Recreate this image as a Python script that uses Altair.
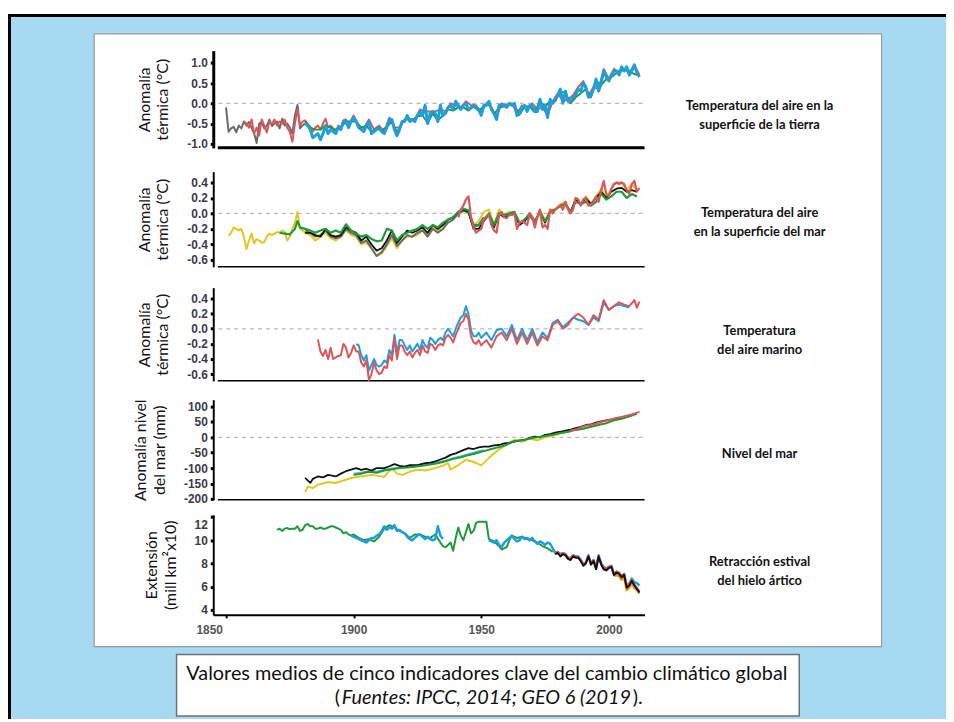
import altair as alt
import pandas as pd

# ---------------- DATA ----------------
# Panel 1: land surface air temperature anomaly (°C)
p1_grey_years = list(range(1850, 1882))
p1_grey = [-0.1, -0.7, -0.62, -0.58, -0.72, -0.55, -0.62, -0.45, -0.55, -0.46,
           -0.6, -0.74, -0.98, -0.5, -0.46, -0.62, -0.55, -0.4, -0.56, -0.5,
           -0.45, -0.62, -0.38, -0.55, -0.5, -0.6, -0.75, -0.3, -0.04, -0.62,
           -0.55, -0.5]
p1_red_years = list(range(1857, 1901)) + list(range(1902, 2013, 2))
p1_red = [-0.45, -0.5, -0.6, -0.4, -0.75, -0.6, -0.8, -0.4, -0.55, -0.72,
          -0.45, -0.5, -0.4, -0.55, -0.45, -0.5, -0.4, -0.6, -0.7, -0.95,
          -0.5, -0.15, -0.55, -0.45, -0.42, -0.5, -0.58, -0.7, -0.6, -0.55,
          -0.65, -0.5, -0.38, -0.6, -0.55, -0.62, -0.7, -0.55, -0.6, -0.42,
          -0.4, -0.55, -0.42, -0.3,
          -0.55, -0.62, -0.4, -0.65, -0.55, -0.7, -0.35, -0.6, -0.6, -0.4,
          -0.4, -0.4, -0.15, -0.2, -0.2, -0.2, -0.15, -0.2, 0.0, -0.05,
          -0.1, 0.05, -0.05, -0.05, -0.25, 0.0, -0.1, -0.35, 0.0, -0.05,
          0.0, -0.25, -0.05, -0.15, 0.0, -0.15, -0.1, -0.3, 0.05, 0.25,
          0.05, 0.1, 0.2, 0.4, 0.55, 0.2, 0.4, 0.35, 0.85, 0.6,
          0.85, 0.75, 0.85, 0.75, 0.95, 0.7]
p1_green_years = list(range(1881, 2012, 2))
p1_green = [-0.45, -0.6, -0.65, -0.65, -0.55, -0.6, -0.65, -0.6, -0.45, -0.45,
            -0.45, -0.6, -0.55, -0.7, -0.62, -0.68, -0.58, -0.45, -0.72, -0.48,
            -0.35, -0.42, -0.32, -0.3, -0.48, -0.25, -0.42, -0.3, -0.15, -0.18,
            -0.1, -0.1, -0.18, -0.08, -0.18, -0.08, 0.0, -0.28, -0.1, -0.08,
            -0.04, -0.04, -0.28, -0.08, -0.08, -0.22, 0.05, -0.08, 0.05, 0.05,
            0.3, 0.25, 0.0, 0.15, 0.25, 0.35, 0.15, 0.55, 0.45, 0.6,
            0.65, 0.75, 0.85, 0.85, 0.75, 0.7]
p1_blue_years = list(range(1881, 2013))
p1_blue = [-0.5, -0.55, -0.65, -0.85, -0.8, -0.75, -0.9, -0.75, -0.55, -0.75,
           -0.65, -0.7, -0.75, -0.6, -0.65, -0.45, -0.45, -0.6, -0.45, -0.35,
           -0.45, -0.6, -0.65, -0.7, -0.55, -0.45, -0.75, -0.7, -0.65, -0.6,
           -0.7, -0.75, -0.6, -0.4, -0.4, -0.65, -0.8, -0.65, -0.45, -0.45,
           -0.3, -0.45, -0.4, -0.45, -0.3, -0.2, -0.3, -0.05, -0.5, -0.25,
           -0.2, -0.25, -0.45, -0.05, -0.3, -0.25, -0.1, -0.05, -0.15, 0.05,
           -0.05, -0.15, -0.05, 0.0, -0.15, -0.1, -0.05, -0.1, -0.15, -0.3,
           -0.05, -0.05, 0.05, -0.15, -0.25, -0.4, -0.05, -0.05, -0.05, -0.1,
           0.0, -0.05, 0.0, -0.3, -0.25, -0.1, -0.05, -0.2, -0.05, -0.05,
           -0.2, -0.2, 0.1, -0.15, -0.05, -0.35, 0.1, 0.0, 0.1, 0.2,
           0.35, 0.0, 0.3, 0.05, 0.05, 0.15, 0.2, 0.35, 0.3, 0.5,
           0.4, 0.15, 0.2, 0.35, 0.6, 0.3, 0.5, 0.8, 0.65, 0.55,
           0.7, 0.8, 0.8, 0.7, 0.9, 0.8, 0.9, 0.7, 0.8, 0.95,
           0.75, 0.65]

# Panel 2: sea surface temperature anomaly (°C)
p2_yellow_years = list(range(1851, 1882)) + list(range(1883, 2012, 2))
p2_yellow = [-0.29, -0.25, -0.18, -0.2, -0.22, -0.2, -0.3, -0.46, -0.35, -0.26,
             -0.39, -0.33, -0.35, -0.38, -0.37, -0.3, -0.26, -0.28, -0.26, -0.24,
             -0.25, -0.22, -0.24, -0.35, -0.3, -0.2, -0.12, 0.02, -0.2, -0.22,
             -0.25,
             -0.28, -0.35, -0.3, -0.25, -0.32, -0.35, -0.3, -0.22, -0.28, -0.3,
             -0.4, -0.38, -0.45, -0.55, -0.52, -0.42, -0.32, -0.45, -0.35, -0.3,
             -0.3, -0.28, -0.22, -0.28, -0.18, -0.22, -0.2, -0.08, -0.05, 0.0,
             0.05, 0.0, -0.15, -0.1, 0.02, 0.05, -0.15, 0.05, -0.02, 0.02,
             0.02, -0.12, -0.08, 0.0, -0.12, 0.05, -0.1, 0.05, 0.05, 0.12,
             0.15, 0.0, 0.2, 0.12, 0.22, 0.12, 0.22, 0.32, 0.2, 0.32,
             0.4, 0.4, 0.3, 0.38, 0.3]
p2_grey_years = list(range(1881, 1952, 2))
p2_grey = [-0.22, -0.25, -0.3, -0.28, -0.22, -0.3, -0.32, -0.3, -0.2, -0.25,
           -0.28, -0.38, -0.35, -0.45, -0.55, -0.5, -0.4, -0.28, -0.42, -0.35,
           -0.28, -0.3, -0.25, -0.22, -0.3, -0.2, -0.25, -0.2, -0.12, -0.08,
           0.0, 0.03, 0.02, -0.18, -0.15, -0.05]
p2_black_years = list(range(1881, 2012, 2))
p2_black = [-0.25, -0.25, -0.28, -0.3, -0.2, -0.28, -0.3, -0.28, -0.18, -0.22,
            -0.25, -0.35, -0.3, -0.4, -0.48, -0.45, -0.35, -0.22, -0.38, -0.3,
            -0.22, -0.25, -0.22, -0.18, -0.25, -0.15, -0.2, -0.15, -0.08, -0.05,
            0.02, 0.05, 0.02, -0.2, -0.2, -0.1, -0.02, -0.18, 0.0, -0.05,
            -0.02, 0.0, -0.15, -0.1, -0.02, -0.12, 0.02, -0.12, 0.02, 0.05,
            0.1, 0.12, 0.02, 0.18, 0.12, 0.2, 0.12, 0.2, 0.28, 0.2,
            0.28, 0.32, 0.33, 0.28, 0.3, 0.28]
p2_green_years = [1871, 1873, 1875, 1877, 1878] + list(range(1879, 2012, 2))
p2_green = [-0.25, -0.26, -0.27, -0.2, -0.1,
            -0.18, -0.2, -0.22, -0.25, -0.22, -0.2, -0.25, -0.22, -0.25, -0.14,
            -0.22, -0.26, -0.3, -0.28, -0.33, -0.36, -0.35, -0.2, -0.22, -0.35,
            -0.28, -0.25, -0.22, -0.2, -0.15, -0.2, -0.15, -0.18, -0.12, -0.08,
            -0.05, 0.02, 0.06, 0.04, -0.15, -0.15, -0.08, 0.0, -0.15, 0.0,
            -0.02, 0.0, 0.02, -0.12, -0.08, 0.0, -0.1, 0.02, -0.1, 0.02,
            0.05, 0.1, 0.12, 0.02, 0.15, 0.12, 0.15, 0.1, 0.15, 0.25,
            0.18, 0.22, 0.28, 0.28, 0.2, 0.25, 0.22]
p2_red_years = list(range(1941, 2013))
p2_red = [-0.05, 0.05, 0.1, 0.18, 0.22, -0.05, -0.18, -0.25, -0.22, -0.2,
          -0.08, -0.05, -0.02, -0.15, -0.22, -0.25, -0.02, 0.02, -0.05, -0.06,
          -0.02, -0.02, 0.0, -0.2, -0.12, -0.1, -0.12, -0.15, 0.0, -0.05,
          -0.18, -0.05, 0.05, -0.18, -0.15, -0.2, 0.05, 0.0, 0.05, 0.08,
          0.1, 0.05, 0.15, 0.05, 0.0, 0.05, 0.2, 0.18, 0.1, 0.18,
          0.2, 0.1, 0.12, 0.15, 0.22, 0.15, 0.3, 0.42, 0.25, 0.22,
          0.32, 0.38, 0.4, 0.38, 0.4, 0.38, 0.3, 0.25, 0.38, 0.42,
          0.28, 0.33]

# Panel 3: marine air temperature anomaly (°C)
p3_red_years = list(range(1886, 1951)) + list(range(1952, 2011, 2)) + [2011, 2012]
p3_red = [-0.14, -0.3, -0.36, -0.28, -0.4, -0.25, -0.4, -0.38, -0.36, -0.35,
          -0.2, -0.25, -0.38, -0.32, -0.22, -0.3, -0.3, -0.45, -0.5, -0.42,
          -0.68, -0.6, -0.45, -0.55, -0.6, -0.58, -0.5, -0.52, -0.35, -0.42,
          -0.12, -0.4, -0.22, -0.22, -0.3, -0.35, -0.3, -0.38, -0.32, -0.28,
          -0.35, -0.22, -0.3, -0.32, -0.2, -0.22, -0.28, -0.22, -0.2, -0.22,
          -0.12, -0.08, -0.12, -0.18, -0.08, 0.0, 0.08, 0.1, 0.2, 0.12,
          -0.1, -0.18, -0.2, -0.15, -0.22,
          -0.15, -0.25, -0.1, -0.05, -0.15, 0.0, -0.2, -0.05, -0.2, -0.05,
          -0.22, -0.1, -0.15, 0.05, 0.1, 0.0, 0.05, 0.15, 0.2, 0.15,
          0.05, 0.18, 0.12, 0.38, 0.25, 0.3, 0.35, 0.32, 0.3, 0.38,
          0.28, 0.36]
p3_blue_years = list(range(1901, 1951)) + list(range(1952, 2009, 2))
p3_blue = [-0.2, -0.22, -0.35, -0.42, -0.35, -0.55, -0.48, -0.4, -0.48, -0.5,
           -0.48, -0.42, -0.45, -0.28, -0.35, -0.08, -0.32, -0.15, -0.15, -0.22,
           -0.28, -0.22, -0.3, -0.25, -0.2, -0.28, -0.15, -0.22, -0.25, -0.12,
           -0.15, -0.2, -0.15, -0.12, -0.15, -0.05, 0.0, -0.05, -0.1, 0.0,
           0.08, 0.15, 0.18, 0.3, 0.2, -0.02, -0.1, -0.1, -0.05, -0.12,
           -0.05, -0.15, -0.02, 0.0, -0.1, 0.05, -0.15, 0.0, -0.15, 0.0,
           -0.18, -0.05, -0.12, 0.08, 0.12, 0.02, 0.08, 0.15, 0.12, 0.1,
           0.05, 0.15, 0.1, 0.35, 0.25, 0.3, 0.32, 0.3, 0.28]

# Panel 4: sea level anomaly (mm)
p4_black_years = [1881, 1883, 1884, 1886, 1888, 1890, 1893, 1895, 1897, 1899,
                  1901, 1903, 1905, 1907, 1909, 1912, 1914, 1916, 1918, 1920,
                  1922, 1925, 1928, 1930, 1932, 1934, 1936, 1938, 1940, 1942,
                  1945, 1947, 1949, 1951, 1953, 1955, 1957, 1959, 1961, 1963,
                  1965, 1967, 1969, 1971, 1973, 1975, 1977, 1979, 1981, 1983,
                  1985, 1987, 1989, 1991, 1993, 1995, 1997, 1999, 2001, 2003,
                  2005, 2007, 2009]
p4_black = [-132, -148, -135, -127, -130, -122, -127, -118, -110, -105,
            -100, -106, -102, -108, -100, -100, -94, -87, -93, -95,
            -90, -90, -84, -82, -78, -72, -66, -57, -52, -45,
            -35, -38, -33, -30, -30, -26, -25, -20, -18, -14,
            -10, -8, -2, 2, 0, 8, 10, 15, 18, 22,
            25, 30, 34, 40, 42, 48, 52, 55, 58, 62,
            65, 68, 72]
p4_yellow_years = [1881, 1882, 1884, 1886, 1888, 1890, 1893, 1896, 1899, 1902,
                   1905, 1907, 1910, 1912, 1915, 1917, 1919, 1922, 1925, 1928,
                   1932, 1935, 1937, 1938, 1941, 1944, 1947, 1950, 1952, 1955,
                   1959, 1963, 1966, 1969, 1972, 1975, 1978, 1981, 1984, 1987,
                   1990, 1993, 1996, 1999, 2002, 2005, 2008]
p4_yellow = [-178, -160, -165, -154, -150, -145, -148, -140, -132, -128,
             -125, -122, -126, -128, -100, -118, -122, -112, -105, -108,
             -100, -92, -84, -105, -90, -73, -80, -91, -75, -52,
             -28, -8, -15, -5, -10, 0, 5, 12, 18, 25,
             28, 35, 42, 45, 55, 62, 70]
p4_green_years = list(range(1900, 2012, 3))
p4_green = [-122, -118, -112, -115, -108, -104, -100, -98, -95, -92,
            -88, -84, -78, -70, -65, -58, -52, -45, -38, -32,
            -24, -12, -10, -4, 0, 4, 8, 14, 18, 24,
            28, 34, 40, 46, 55, 60, 68, 76]
p4_cyan_years = list(range(1900, 1952, 3))
p4_cyan = [-118, -115, -110, -112, -105, -102, -98, -95, -96, -90,
           -86, -82, -76, -68, -62, -55, -48, -42]
p4_red_years = [1985, 1987, 1989, 1991, 1993, 1995, 1997, 1999, 2001, 2003,
                2005, 2007, 2009, 2011, 2012]
p4_red = [22, 25, 32, 38, 40, 45, 50, 54, 58, 63, 66, 70, 74, 80, 82]

# Panel 5: summer Arctic sea-ice extent (mill km² x10)
p5_green_years = (list(range(1870, 1901)) + list(range(1902, 1933, 2))
                  + list(range(1934, 1954))
                  + [1955, 1957, 1958, 1959, 1960, 1961, 1962, 1964, 1966, 1968,
                     1970, 1972, 1974, 1976, 1978])
p5_green = [10.9, 11.0, 10.8, 11.0, 11.05, 10.95, 11.0, 11.0, 11.2, 10.8,
            10.9, 11.3, 11.4, 11.2, 11.2, 11.0, 11.0, 11.1, 11.0, 11.0,
            11.1, 11.2, 11.2, 11.1, 11.0, 10.9, 10.6, 10.7, 10.5, 10.4,
            10.5,
            10.2, 10.0, 10.1, 9.9, 10.3, 11.0, 11.3, 11.1, 10.8, 10.6,
            10.2, 10.5, 10.5, 10.3, 10.2, 10.5,
            9.8, 9.5, 9.4, 9.6, 9.8, 9.1, 10.2, 11.1, 10.4, 10.0,
            10.7, 11.4, 10.6, 10.8, 11.5, 11.6, 11.6, 11.6, 11.6, 10.1,
            9.9, 9.5, 9.2, 9.3, 9.4, 10.0, 10.4, 10.2, 10.3, 10.1,
            10.0, 9.8, 9.5, 9.3, 9.0]
p5_blue_a_years = list(range(1899, 1936))
p5_blue_a = [10.4, 10.3, 10.2, 10.1, 10.0, 9.9, 9.8, 10.0, 10.2, 10.2,
             10.4, 10.5, 10.8, 11.2, 10.9, 11.1, 11.0, 11.3, 10.8, 10.9,
             10.7, 10.6, 10.3, 10.1, 10.0, 10.2, 10.4, 10.5, 10.3, 10.1,
             10.3, 10.1, 10.0, 10.1, 11.2, 10.4, 10.1]
p5_blue_b_years = list(range(1953, 2013))
p5_blue_b = [10.0, 9.9, 9.8, 10.0, 9.6, 9.4, 9.8, 10.0, 10.2, 10.4,
             10.1, 9.9, 10.0, 10.3, 10.1, 10.2, 10.0, 10.2, 9.9, 9.7,
             9.9, 9.8, 9.6, 9.8, 9.7, 9.3, 8.9, 9.0, 8.8, 8.9,
             8.8, 8.5, 8.4, 8.7, 8.6, 8.6, 8.3, 7.9, 8.1, 8.7,
             8.0, 8.3, 7.6, 8.7, 8.0, 7.6, 7.5, 7.7, 7.8, 7.1,
             7.3, 7.2, 6.9, 7.1, 6.0, 6.2, 6.7, 6.4, 6.3, 6.1]
p5_red_years = list(range(1979, 2013))
p5_red = [8.9, 9.0, 8.7, 8.9, 8.8, 8.5, 8.5, 8.7, 8.6, 8.6,
          8.3, 8.0, 8.1, 8.7, 8.0, 8.3, 7.7, 8.6, 8.0, 7.7,
          7.6, 7.7, 7.8, 7.1, 7.3, 7.2, 6.9, 7.1, 6.1, 6.3,
          6.6, 6.2, 5.9, 5.6]
p5_black_years = list(range(1979, 2013))
p5_black = [8.8, 8.9, 8.6, 8.8, 8.7, 8.4, 8.3, 8.6, 8.5, 8.5,
            8.2, 7.8, 8.0, 8.6, 7.9, 8.2, 7.5, 8.6, 7.9, 7.5,
            7.4, 7.6, 7.7, 7.0, 7.2, 7.1, 6.8, 7.0, 5.9, 6.1,
            6.5, 6.1, 5.8, 5.5]
p5_orange_years = list(range(2002, 2013))
p5_orange = [6.9, 7.0, 6.9, 6.6, 6.8, 5.7, 5.9, 6.3, 5.9, 5.7, 5.4]

# Axis texts
x_ticks = [1850, 1900, 1950, 2000]
titles_left = [["Anomalía", "térmica (°C)"], ["Anomalía", "térmica (°C)"],
               ["Anomalía", "térmica (°C)"], ["Anomalía nivel", "del mar (mm)"],
               ["Extensión", "(mill km²x10)"]]
titles_right = [["Temperatura del aire en la", "superficie de la tierra"],
                ["Temperatura del aire", "en la superficie del mar"],
                ["Temperatura", "del aire marino"],
                ["Nivel del mar"],
                ["Retracción estival", "del hielo ártico"]]
ticks_p1 = [-1.0, -0.5, 0.0, 0.5, 1.0]
ticks_p23 = [-0.6, -0.4, -0.2, 0.0, 0.2, 0.4]
ticks_p4 = [-200, -150, -100, -50, 0, 50, 100]
ticks_p5 = [4, 6, 8, 10, 12]
zero_years = [1847, 2014]
caption1 = "Valores medios de cinco indicadores clave del cambio climático global"
caption2 = ["(", "Fuentes: IPCC, 2014; GEO 6 (2019", ")."]

# ---------------- LAYOUT ----------------
X0, Y0 = 215, 45          # page position of plot-area origin
W, H = 435, 572

BLUE = "#1c9fdc"
GREEN = "#1f9a3a"
RED = "#d9575b"
BLACK = "#111111"
GREY = "#6a6a6a"
YELLOW = "#e2c81c"
ORANGE = "#f29a1c"
CYAN = "#3cc0c4"

MINUS_FIX = "replace(datum.label, '\u2212', '-')"

x_enc = alt.X("year:Q",
              scale=alt.Scale(domain=[1845, 2014], nice=False, zero=False),
              axis=alt.Axis(values=x_ticks, format="d", title=None, zindex=2,
                            grid=False,
                            domainColor="black", domainWidth=2,
                            tickColor="black", tickSize=3, tickWidth=2,
                            labelPadding=7, labelFontSize=12,
                            labelOffset={"condition": {"test": "datum.value == 1850",
                                                       "value": -17},
                                         "value": 0},
                            labelFont="Liberation Sans", labelFontWeight="bold",
                            labelColor="#555555"))


def y_enc(domain, rng, ticks, title, fmt, dw, offset_value=None):
    extra = {}
    if offset_value is not None:
        extra["labelOffset"] = {"condition": {"test": f"datum.value == {offset_value}",
                                              "value": 8}, "value": 0}
    return alt.Y("value:Q",
                 scale=alt.Scale(domain=domain, range=rng, nice=False, zero=False),
                 axis=alt.Axis(values=ticks, format=fmt, title=title, orient="left",
                               zindex=2, grid=False,
                               labelExpr=MINUS_FIX, domainColor="black", domainWidth=dw,
                               tickColor="black", tickSize=3, tickWidth=3,
                               labelPadding=3, labelFontSize=12,
                               labelFont="Liberation Sans", labelFontWeight="bold",
                               labelColor="#3a3a48",
                               titleFont="Lato", titleFontSize=16,
                               titleFontWeight="normal", titleColor="#111111",
                               titlePadding=16, titleLineHeight=19, **extra))


def line(years, values, color, width, yy, dash=None):
    df = pd.DataFrame({"year": years, "value": values})
    kw = dict(color=color, strokeWidth=width, strokeJoin="round")
    if dash:
        kw["strokeDash"] = dash
    return alt.Chart(df).mark_line(**kw).encode(x=x_enc, y=yy)


def guides(yy, dmin, base_w):
    zero = line(zero_years, [0, 0], "#b8b8b8", 1.3, yy, dash=[4, 4])
    base = line([1846.8, 2014], [dmin, dmin], "black", base_w, yy)
    return [zero, base]


y1 = y_enc([-1.1, 1.3], [101, 3], ticks_p1, titles_left[0], ".1f", 3)
p1 = alt.layer(*guides(y1, -1.1, 3),
               line(p1_grey_years, p1_grey, GREY, 2, y1),
               line(p1_red_years, p1_red, RED, 2, y1),
               line(p1_green_years, p1_green, GREEN, 2, y1),
               line(p1_blue_years, p1_blue, BLUE, 3, y1))

y2 = y_enc([-0.69, 0.54], [221, 125], ticks_p23, titles_left[1], ".1f", 2)
p2 = alt.layer(*guides(y2, -0.69, 1.5),
               line(p2_yellow_years, p2_yellow, YELLOW, 2, y2),
               line(p2_grey_years, p2_grey, GREY, 2, y2),
               line(p2_black_years, p2_black, BLACK, 1.8, y2),
               line(p2_green_years, p2_green, GREEN, 2.2, y2),
               line(p2_red_years, p2_red, RED, 2.2, y2))

y3 = y_enc([-0.69, 0.545], [336, 242], ticks_p23, titles_left[2], ".1f", 2)
p3 = alt.layer(*guides(y3, -0.69, 1.5),
               line(p3_blue_years, p3_blue, BLUE, 2, y3),
               line(p3_red_years, p3_red, RED, 2, y3))

y4 = y_enc([-203, 122], [456, 355], ticks_p4, titles_left[3], "d", 2)
p4 = alt.layer(*guides(y4, -203, 1.5),
               line(p4_yellow_years, p4_yellow, YELLOW, 2, y4),
               line(p4_cyan_years, p4_cyan, CYAN, 2, y4),
               line(p4_black_years, p4_black, BLACK, 1.8, y4),
               line(p4_green_years, p4_green, GREEN, 2, y4),
               line(p4_red_years, p4_red, RED, 2, y4))

y5 = y_enc([3.57, 12.2], [572, 471], ticks_p5, titles_left[4], "d", 2, offset_value=12)
p5 = alt.layer(line(p5_green_years, p5_green, GREEN, 2, y5),
               line(p5_blue_a_years, p5_blue_a, BLUE, 2.5, y5),
               line(p5_blue_b_years, p5_blue_b, BLUE, 2.5, y5),
               line(p5_orange_years, p5_orange, ORANGE, 2.5, y5),
               line(p5_red_years, p5_red, RED, 2, y5),
               line(p5_black_years, p5_black, BLACK, 2, y5))

one = alt.Data(values=[{}])


def box(px1, px2, py1, py2, **kw):
    return alt.Chart(one).mark_rect(**kw).encode(
        x=alt.value(px1 - X0), x2=alt.value(px2 - X0),
        y=alt.value(py1 - Y0), y2=alt.value(py2 - Y0))


def label(text, px, py, **kw):
    return alt.Chart(one).mark_text(text=text, **kw).encode(
        x=alt.value(px - X0), y=alt.value(py - Y0))


background = box(8, 954, 11, 722, fill="#a6daf3")
border_top = box(8, 954, 11, 14, fill="black")
border_left = box(8, 11, 11, 722, fill="black")
white_panel = box(95, 889, 31, 649, fill="white", stroke="#9a9a9a", strokeWidth=1.2)
caption_box = box(178, 806, 657, 719, fill="white", stroke="#707070", strokeWidth=1.5)

right_y = [104, 212, 331, 455, 564]
right_titles = [label(t, 766, yy, font="Lato", fontSize=13, fontWeight="bold",
                      color="#111111", align="center", baseline="middle",
                      lineHeight=19)
                for t, yy in zip(titles_right, right_y)]

cap_kw = dict(font="Lato", color="#111111", baseline="middle")
cap1 = label(caption1, 491, 677, align="center", fontSize=20, **cap_kw)
cap2a = label(caption2[0], 343, 701, align="right", fontSize=20, **cap_kw)
cap2b = label(caption2[1], 490.5, 701, align="center", fontStyle="italic",
              fontSize=20, **cap_kw)
cap2c = label(caption2[2], 638, 701, align="left", fontSize=20, **cap_kw)

chart = alt.layer(
    background, border_top, border_left, white_panel, caption_box,
    p1, p2, p3, p4, p5,
    *right_titles, cap1, cap2a, cap2b, cap2c
).resolve_scale(y="independent").properties(
    width=W, height=H,
    padding={"left": 0, "top": 3, "right": 0, "bottom": 0}
).configure_view(stroke=None).configure_axis(
    grid=False
).configure(background="white")

chart.save("out.html", embed_options={"renderer": "svg", "actions": False})
